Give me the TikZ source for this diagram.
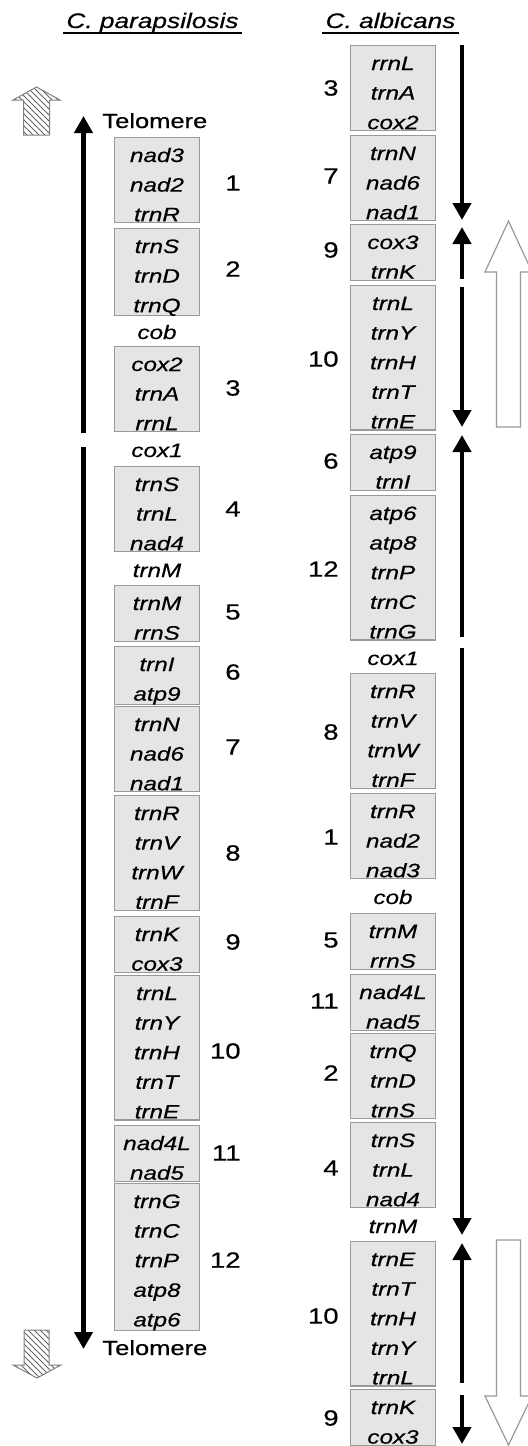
\documentclass[tikz,border=0pt]{standalone}
\usepackage{fontspec}
\setmainfont{Liberation Sans}[FakeStretch=1.25, FakeBold=0.5]
\usepackage{tikz}
\usetikzlibrary{arrows.meta, patterns}

\newcommand{\genefont}{\fontsize{9.7}{14.8}\selectfont\itshape}
\newcommand{\gstrut}{\rule[-0.8pt]{0pt}{13pt}}
\newcommand{\gl}[1]{\gstrut#1\gstrut}

\begin{document}
\begin{tikzpicture}[x=0.5pt, y=-0.5pt]
\tikzstyle{gene} = [rectangle, anchor=north, draw=black!40, line width=0.6pt, fill=black!10, minimum width=42.5pt, inner xsep=0pt, inner ysep=0pt, align=center, font=\genefont]
\tikzstyle{free} = [anchor=base, inner sep=0pt, font=\genefont]
\tikzstyle{num} = [anchor=east, inner sep=0pt, font=\fontsize{11}{13}\selectfont]
\tikzstyle{tel} = [anchor=base west, inner sep=0pt, font=\fontsize{10.2}{12}\selectfont]
\tikzstyle{title} = [anchor=base, inner xsep=1.5pt, inner ysep=0pt, font=\fontsize{10.5}{12}\selectfont\itshape]
\tikzstyle{arrow} = [line width=2.25pt, -{Triangle[width=9pt,length=8.5pt]}]
\tikzstyle{hatch} = [draw=black!50, line width=0.5pt, pattern=north west lines, pattern color=black!60]
\tikzstyle{block} = [draw=black!40, line width=0.6pt, fill=white]

\useasboundingbox (0,0) rectangle (528,1446);
\clip (0,0) rectangle (528,1446);

% titles
\node (tP) [title] at (152.5,28) {C. parapsilosis};
\node (tA) [title] at (390.5,28) {C. albicans};
\draw [line width=1pt] ([yshift=-2.3pt]tP.base west) -- ([yshift=-2.3pt]tP.base east);
\draw [line width=1pt] ([yshift=-2.3pt]tA.base west) -- ([yshift=-2.3pt]tA.base east);

% C. parapsilosis
\node (telTop) [tel] at (102,128) {Telomere};
\node (p1) [gene] at (157,137) {\gl{nad3\\nad2\\trnR}};
\node (p2) [gene] at (157,228) {\gl{trnS\\trnD\\trnQ}};
\node (pCob) [free] at (157,339) {cob};
\node (p3) [gene] at (157,346) {\gl{cox2\\trnA\\rrnL}};
\node (pCox) [free] at (157,457) {cox1};
\node (p4) [gene] at (157,466) {\gl{trnS\\trnL\\nad4}};
\node (pTrnM) [free] at (157,577) {trnM};
\node (p5) [gene] at (157,585) {\gl{trnM\\rrnS}};
\node (p6) [gene] at (157,646) {\gl{trnI\\atp9}};
\node (p7) [gene] at (157,706) {\gl{trnN\\nad6\\nad1}};
\node (p8) [gene] at (157,795) {\gl{trnR\\trnV\\trnW\\trnF}};
\node (p9) [gene] at (157,916) {\gl{trnK\\cox3}};
\node (p10) [gene] at (157,975) {\gl{trnL\\trnY\\trnH\\trnT\\trnE}};
\node (p11) [gene] at (157,1125) {\gl{nad4L\\nad5}};
\node (p12) [gene] at (157,1183) {\gl{trnG\\trnC\\trnP\\atp8\\atp6}};
\node (telBot) [tel] at (102,1355) {Telomere};

\node (pn1) [num] at (241,183) {1};
\node (pn2) [num] at (241,269) {2};
\node (pn3) [num] at (241,388) {3};
\node (pn4) [num] at (241,509) {4};
\node (pn5) [num] at (241,612) {5};
\node (pn6) [num] at (241,672) {6};
\node (pn7) [num] at (241,747) {7};
\node (pn8) [num] at (241,853) {8};
\node (pn9) [num] at (241,942) {9};
\node (pn10) [num] at (241,1051) {10};
\node (pn11) [num] at (241,1153) {11};
\node (pn12) [num] at (241,1260) {12};

\coordinate (pTop) at (83.5,116);
\coordinate (pGapA) at (83.5,433);
\coordinate (pGapB) at (83.5,447);
\coordinate (pBot) at (83.5,1349);
\draw [arrow] (pGapA) -- (pTop);
\draw [arrow] (pGapB) -- (pBot);

\draw [hatch] (23.5,135) -- (23.5,100) -- (13,100) -- (36.5,87) -- (60,100) -- (49.5,100) -- (49.5,135) -- cycle;
\draw [hatch] (24,1330) -- (24,1365) -- (13,1365) -- (37,1378) -- (61,1365) -- (49,1365) -- (49,1330) -- cycle;

% C. albicans
\node (a1) [gene] at (393,45) {\gl{rrnL\\trnA\\cox2}};
\node (a2) [gene] at (393,135) {\gl{trnN\\nad6\\nad1}};
\node (a3) [gene] at (393,224) {\gl{cox3\\trnK}};
\node (a4) [gene] at (393,285) {\gl{trnL\\trnY\\trnH\\trnT\\trnE}};
\node (a5) [gene] at (393,434) {\gl{atp9\\trnI}};
\node (a6) [gene] at (393,495) {\gl{atp6\\atp8\\trnP\\trnC\\trnG}};
\node (aCox) [free] at (393,665) {cox1};
\node (a7) [gene] at (393,673) {\gl{trnR\\trnV\\trnW\\trnF}};
\node (a8) [gene] at (393,793) {\gl{trnR\\nad2\\nad3}};
\node (aCob) [free] at (393,904) {cob};
\node (a9) [gene] at (393,913) {\gl{trnM\\rrnS}};
\node (a10) [gene] at (393,974) {\gl{nad4L\\nad5}};
\node (a11) [gene] at (393,1033) {\gl{trnQ\\trnD\\trnS}};
\node (a12) [gene] at (393,1122) {\gl{trnS\\trnL\\nad4}};
\node (aTrnM) [free] at (393,1233) {trnM};
\node (a13) [gene] at (393,1241) {\gl{trnE\\trnT\\trnH\\trnY\\trnL}};
\node (a14) [gene] at (393,1389) {\gl{trnK\\cox3}};

\node (an3) [num] at (339,88) {3};
\node (an7) [num] at (339,176) {7};
\node (an9) [num] at (339,250) {9};
\node (an10) [num] at (339,359) {10};
\node (an6) [num] at (339,461) {6};
\node (an12) [num] at (339,569) {12};
\node (an8) [num] at (339,732) {8};
\node (an1) [num] at (339,837) {1};
\node (an5) [num] at (339,940) {5};
\node (an11) [num] at (339,1001) {11};
\node (an2) [num] at (339,1073) {2};
\node (an4) [num] at (339,1168) {4};
\node (an10b) [num] at (339,1316) {10};
\node (an9b) [num] at (339,1418) {9};

\coordinate (aS1) at (462,45);   \coordinate (aE1) at (462,220);
\coordinate (aS2) at (462,279);  \coordinate (aE2) at (462,227);
\coordinate (aS3) at (462,287);  \coordinate (aE3) at (462,427);
\coordinate (aS4) at (462,637);  \coordinate (aE4) at (462,435);
\coordinate (aS5) at (462,648);  \coordinate (aE5) at (462,1235);
\coordinate (aS6) at (462,1383); \coordinate (aE6) at (462,1243);
\coordinate (aS7) at (462,1395); \coordinate (aE7) at (462,1444);
\draw [arrow] (aS1) -- (aE1);
\draw [arrow] (aS2) -- (aE2);
\draw [arrow] (aS3) -- (aE3);
\draw [arrow] (aS4) -- (aE4);
\draw [arrow] (aS5) -- (aE5);
\draw [arrow] (aS6) -- (aE6);
\draw [arrow] (aS7) -- (aE7);

\draw [block] (496.5,427) -- (496.5,272) -- (485,272) -- (508.5,221) -- (532,272) -- (520.5,272) -- (520.5,427) -- cycle;
\draw [block] (496.5,1240) -- (496.5,1396) -- (485,1396) -- (508.5,1445) -- (532,1396) -- (520.5,1396) -- (520.5,1240) -- cycle;
\end{tikzpicture}
\end{document}
